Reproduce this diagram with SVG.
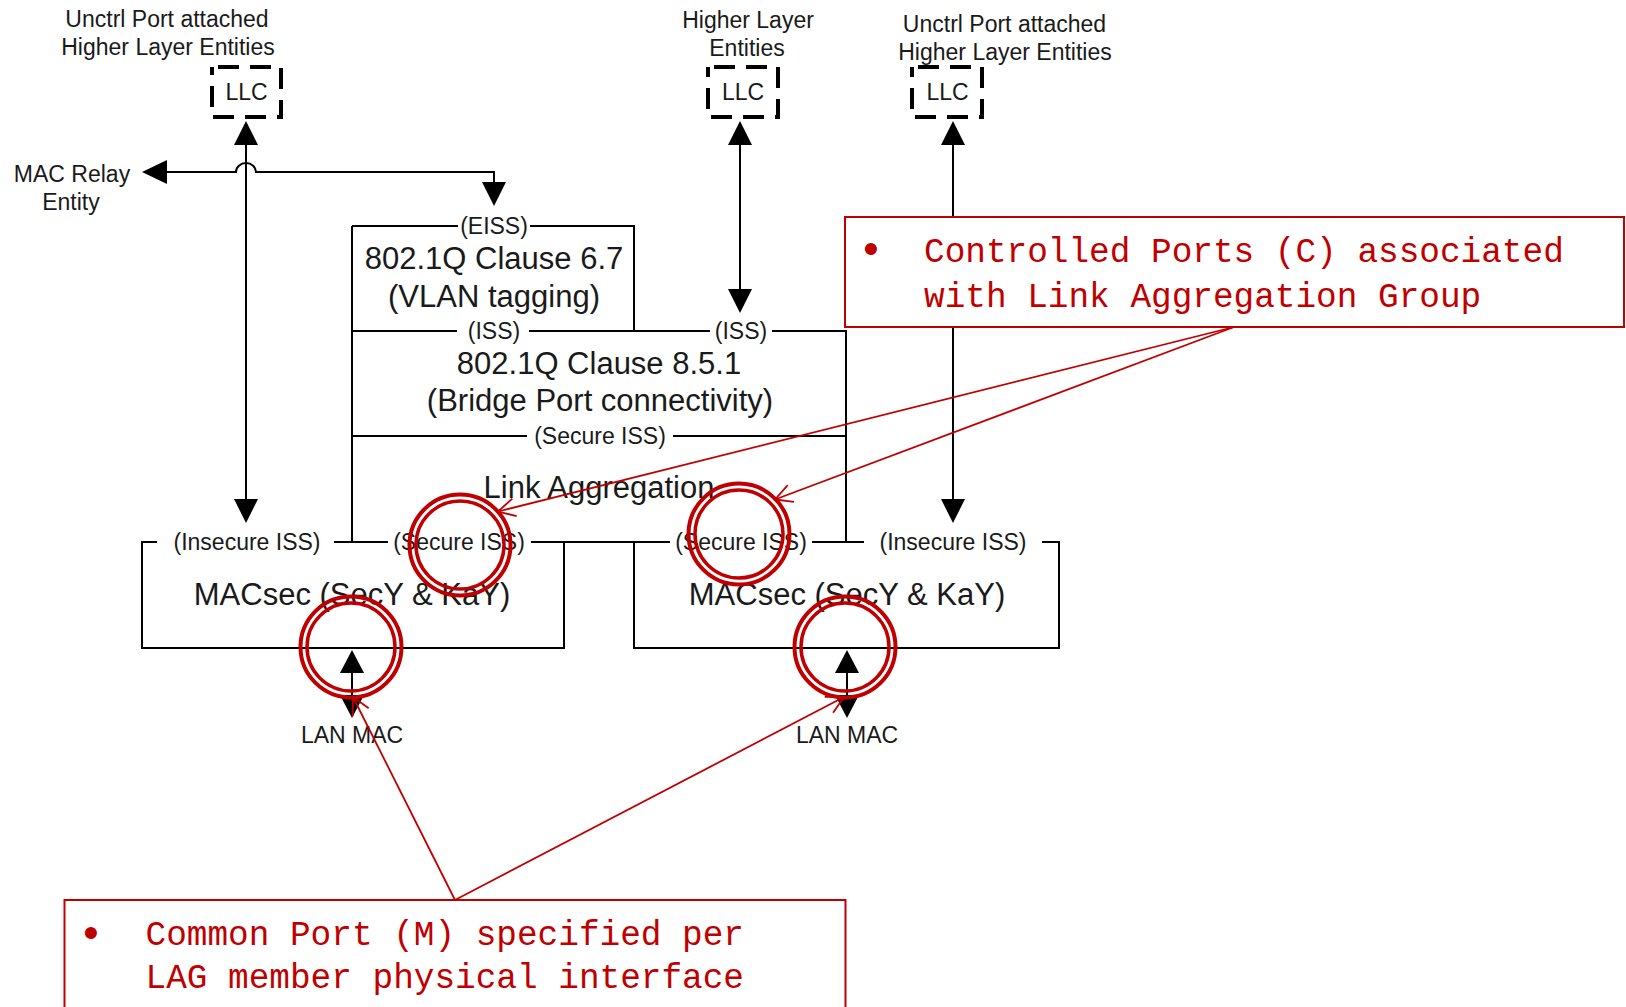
<svg xmlns="http://www.w3.org/2000/svg" width="1626" height="1007" viewBox="0 0 1626 1007">
<defs>
<style>
.ln{stroke:#000;stroke-width:2;fill:none}
.ah{fill:#000;stroke:none}
.sm{font-family:"Liberation Sans",Arial,sans-serif;font-size:23px;fill:#1a1a1a;text-anchor:middle}
.lg{font-family:"Liberation Sans",Arial,sans-serif;font-size:31px;fill:#1a1a1a;text-anchor:middle}
.llc{fill:none;stroke:#000;stroke-width:4;stroke-dasharray:21 11}
.rbox{fill:#fff;stroke:#C00000;stroke-width:2}
.rt{font-family:"Liberation Mono","Courier New",monospace;font-size:34.4px;fill:#C00000}
.bul{font-family:"Liberation Sans",Arial,sans-serif;font-size:44px;fill:#C00000;text-anchor:middle}
.rl{stroke:#C00000;stroke-width:1.8;fill:none}
.c1{fill:none;stroke:#C00000;stroke-width:4}
.c2{fill:none;stroke:#C00000;stroke-width:3.5}
</style>
<marker id="ra" markerUnits="userSpaceOnUse" viewBox="-20 -12 22 24" refX="0" refY="0" markerWidth="22" markerHeight="24" orient="auto" overflow="visible">
<path d="M-17,-9 L0,0 L-17,9" fill="none" stroke="#C00000" stroke-width="1.8"/>
</marker>
</defs>
<rect width="1626" height="1007" fill="#fff"/>

<g id="llc-left">
<text class="sm" x="167" y="27">Unctrl Port attached</text>
<text class="sm" x="168" y="54.5">Higher Layer Entities</text>
<rect class="llc" x="212" y="67" width="69" height="50" stroke-dashoffset="-6"/>
<text class="sm" x="246.5" y="100">LLC</text>
</g>

<g id="llc-mid">
<text class="sm" x="748" y="28">Higher Layer</text>
<text class="sm" x="747" y="56">Entities</text>
<rect class="llc" x="708" y="67" width="70" height="50" stroke-dashoffset="-6"/>
<text class="sm" x="743" y="100">LLC</text>
</g>

<g id="llc-right">
<text class="sm" x="1004.5" y="32">Unctrl Port attached</text>
<text class="sm" x="1005" y="59.5">Higher Layer Entities</text>
<rect class="llc" x="912" y="67" width="70" height="50" stroke-dashoffset="-6"/>
<text class="sm" x="947.5" y="100">LLC</text>
</g>

<g id="mac-relay">
<text class="sm" x="72" y="182">MAC Relay</text>
<text class="sm" x="71" y="210">Entity</text>
</g>

<g id="vlan-tagging">
<path class="ln" d="M352,226 H458 M530,226 H634 V331"/>
<text class="sm" x="494" y="234">(EISS)</text>
<text class="lg" x="494" y="269">802.1Q Clause 6.7</text>
<text class="lg" x="494" y="307">(VLAN tagging)</text>
</g>

<g id="bridge-port">
<path class="ln" d="M352,331 H457 M529,331 H710 M772,331 H846 V542"/>
<text class="sm" x="494" y="339">(ISS)</text>
<text class="sm" x="741" y="339">(ISS)</text>
<text class="lg" x="599" y="374">802.1Q Clause 8.5.1</text>
<text class="lg" x="600" y="411">(Bridge Port connectivity)</text>
</g>

<g id="link-aggregation">
<path class="ln" d="M352,226 V542 M352,436 H527 M673,436 H846"/>
<text class="sm" x="600" y="444">(Secure ISS)</text>
<text class="lg" x="599" y="498">Link Aggregation</text>
</g>

<g id="macsec-left">
<path class="ln" d="M157,542 H142 V648 H564 V542 M334,542 H388 M531,542 H564"/>
<text class="sm" x="247" y="550">(Insecure ISS)</text>
<text class="sm" x="459" y="550">(Secure ISS)</text>
<text class="lg" x="352" y="605">MACsec (SecY &amp; KaY)</text>
</g>

<g id="macsec-right">
<path class="ln" d="M564,542 H670 M812,542 H864 M1042,542 H1059 V648 H634 V542"/>
<text class="sm" x="741" y="550">(Secure ISS)</text>
<text class="sm" x="953" y="550">(Insecure ISS)</text>
<text class="lg" x="847" y="605">MACsec (SecY &amp; KaY)</text>
</g>

<g id="lan-mac-left">
<text class="sm" x="352" y="743">LAN MAC</text>
</g>
<g id="lan-mac-right">
<text class="sm" x="847" y="743">LAN MAC</text>
</g>

<g id="connectors">
<path class="ln" d="M246,145 V499"/>
<polygon class="ah" points="246,121 234,145 258,145"/>
<polygon class="ah" points="246,523 234,499 258,499"/>
<path class="ln" d="M167,172 H236 A10 9 0 0 1 256,172 H494 V182"/>
<polygon class="ah" points="142,172 167,160 167,184"/>
<polygon class="ah" points="494,206 482,182 506,182"/>
<path class="ln" d="M740,145 V289"/>
<polygon class="ah" points="740,121 728,145 752,145"/>
<polygon class="ah" points="740,313 728,289 752,289"/>
<path class="ln" d="M953,145 V499"/>
<polygon class="ah" points="953,121 941,145 965,145"/>
<polygon class="ah" points="953,523 941,499 965,499"/>
<path class="ln" d="M352,673 V695"/>
<polygon class="ah" points="352,650 340,673 364,673"/>
<polygon class="ah" points="352,718 340,695 364,695"/>
<path class="ln" d="M847,673 V695"/>
<polygon class="ah" points="847,650 835,673 859,673"/>
<polygon class="ah" points="847,718 835,695 859,695"/>
</g>

<g id="callout-controlled">
<rect class="rbox" x="845" y="217" width="779" height="110"/>
<text class="bul" x="871" y="264">•</text>
<text class="rt" x="924" y="262">Controlled Ports (C) associated</text>
<text class="rt" x="924" y="306.5">with Link Aggregation Group</text>
</g>

<g id="callout-common">
<rect class="rbox" x="64.5" y="900" width="781" height="130"/>
<text class="bul" x="91" y="948">•</text>
<text class="rt" x="145.5" y="945">Common Port (M) specified per</text>
<text class="rt" x="145.5" y="988">LAG member physical interface</text>
</g>

<g id="annotations">
<circle class="c1" cx="460" cy="545" r="50.5"/>
<circle class="c2" cx="460" cy="545" r="44"/>
<circle class="c1" cx="739" cy="534" r="50.5"/>
<circle class="c2" cx="739" cy="534" r="44"/>
<circle class="c1" cx="351" cy="647" r="50.5"/>
<circle class="c2" cx="351" cy="647" r="44"/>
<circle class="c1" cx="845" cy="647" r="50.5"/>
<circle class="c2" cx="845" cy="647" r="44"/>
<path class="rl" d="M1234,327 L498,511.5" marker-end="url(#ra)"/>
<path class="rl" d="M1234,327 L775,499.5" marker-end="url(#ra)"/>
<path class="rl" d="M455,900 L353,697" marker-end="url(#ra)"/>
<path class="rl" d="M455,900 L844,697" marker-end="url(#ra)"/>
</g>
</svg>
